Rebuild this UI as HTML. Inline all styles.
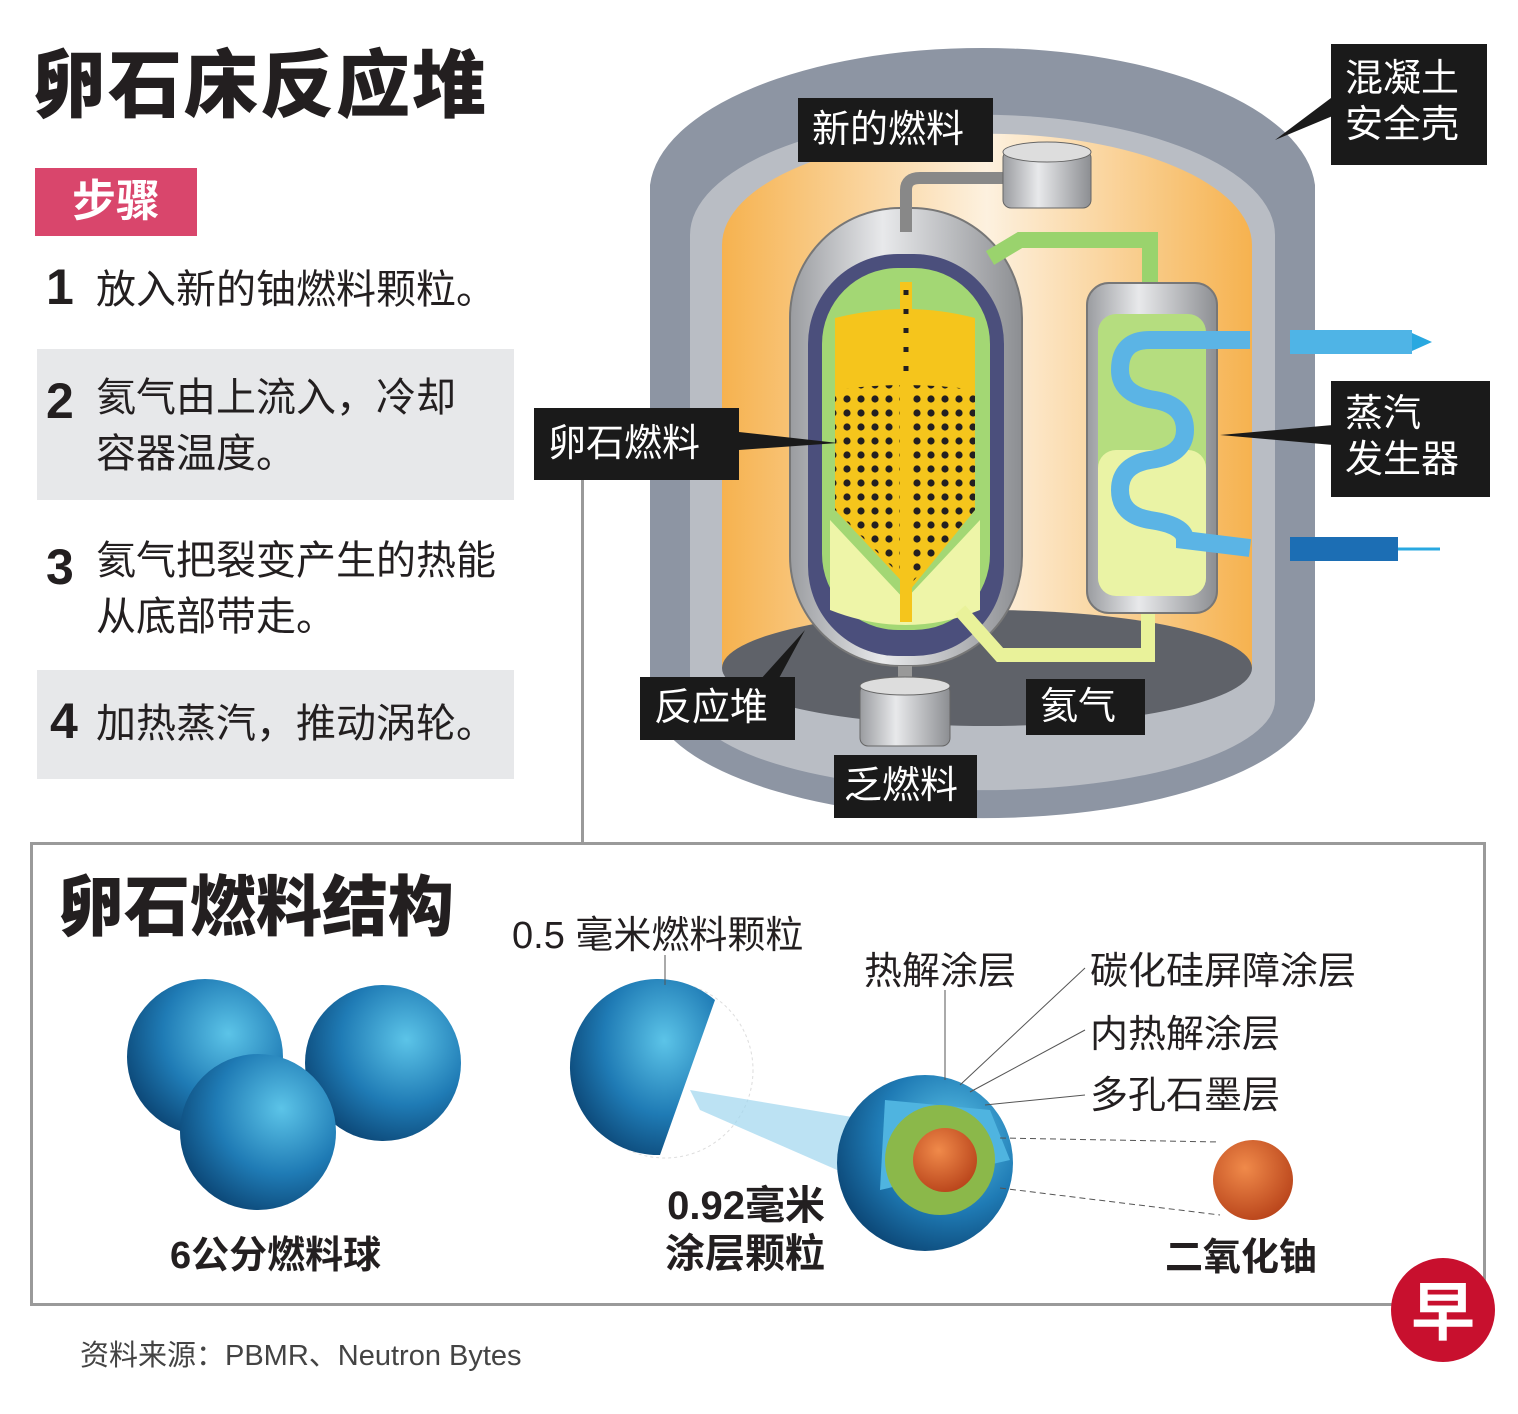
<!DOCTYPE html>
<html><head><meta charset="utf-8"><style>
html,body{margin:0;padding:0;background:#fff}
body{width:1518px;height:1414px;position:relative;overflow:hidden;font-family:"Liberation Sans","Noto Sans CJK SC",sans-serif;color:#231f20}
.a{position:absolute}
.t{font-size:40px;line-height:56px}
.n{font-weight:bold;font-size:50px}
.lb{position:absolute;background:#1a1a1a;color:#fff;font-size:38px;line-height:46px;padding:0 14px;box-sizing:border-box;white-space:nowrap;overflow:hidden}
</style></head><body>
<div class="a" style="left:32px;top:26px;font-size:74px;font-weight:900;letter-spacing:2px">卵石床反应堆</div>
<div class="a" style="left:35px;top:168px;width:162px;height:68px;background:#d9466c;color:#fff;font-size:44px;font-weight:bold;text-align:center;line-height:68px">步骤</div>
<div class="a" style="left:37px;top:349px;width:477px;height:151px;background:#e7e8ea"></div>
<div class="a" style="left:37px;top:670px;width:477px;height:109px;background:#e7e8ea"></div>
<div class="a n" style="left:46px;top:258px">1</div><div class="a t" style="left:96px;top:262px">放入新的铀燃料颗粒。</div>
<div class="a n" style="left:46px;top:372px">2</div><div class="a t" style="left:96px;top:370px">氦气由上流入，冷却<br>容器温度。</div>
<div class="a n" style="left:46px;top:538px">3</div><div class="a t" style="left:96px;top:533px">氦气把裂变产生的热能<br>从底部带走。</div>
<div class="a n" style="left:50px;top:692px">4</div><div class="a t" style="left:96px;top:696px">加热蒸汽，推动涡轮。</div>
<div class="a" style="left:581px;top:480px;width:3px;height:362px;background:#9a9a9a"></div>

<svg class="a" style="left:0;top:0" width="1518" height="1414">
<defs>
<linearGradient id="og" x1="0" x2="1"><stop offset="0" stop-color="#f6b24f"/><stop offset="0.5" stop-color="#fdf1df"/><stop offset="1" stop-color="#f6b24f"/></linearGradient>
<linearGradient id="sv" x1="0" x2="1"><stop offset="0" stop-color="#9a9ca0"/><stop offset="0.4" stop-color="#e8e9eb"/><stop offset="1" stop-color="#8c8e92"/></linearGradient>
<radialGradient id="bl" cx="0.65" cy="0.35" r="0.7"><stop offset="0" stop-color="#5cc4e8"/><stop offset="0.6" stop-color="#1f7bb5"/><stop offset="1" stop-color="#0d4a7a"/></radialGradient>
<radialGradient id="rd" cx="0.4" cy="0.35" r="0.7"><stop offset="0" stop-color="#f08a4a"/><stop offset="1" stop-color="#b8431a"/></radialGradient>
<pattern id="dots" width="14" height="14" patternUnits="userSpaceOnUse"><circle cx="7" cy="7" r="3.6" fill="#231f20"/></pattern>
</defs>
<path d="M650 185 A333 145 0 0 1 1315 185 L1315 700 A333 125 0 0 1 650 700 Z" fill="#8d95a3"/>
<path d="M690 235 A292 120 0 0 1 1275 235 L1275 700 A292 90 0 0 1 690 700 Z" fill="#b9bdc4"/>
<path d="M722 245 A262 110 0 0 1 1252 245 L1252 668 L722 668 Z" fill="url(#og)"/>
<ellipse cx="987" cy="668" rx="265" ry="58" fill="#5f6269"/>
<rect x="790" y="208" width="232" height="458" rx="110" fill="url(#sv)" stroke="#777" stroke-width="2"/>
<rect x="808" y="254" width="196" height="402" rx="90" fill="#4b4f7c"/>
<rect x="822" y="268" width="168" height="362" rx="76" fill="#a3d774"/>
<path d="M835 318 Q906 300 975 318 L975 510 L910 590 L835 510 Z" fill="#f5c51c"/>
<path d="M835 390 Q906 380 975 390 L975 510 L910 585 L835 510 Z" fill="url(#dots)"/>
<path d="M830 520 L905 600 L980 520 L980 610 Q906 640 830 610 Z" fill="#eef5a8"/>
<rect x="900" y="282" width="12" height="340" fill="#f5c51c"/>
<line x1="906" y1="290" x2="906" y2="380" stroke="#231f20" stroke-width="5" stroke-dasharray="5 14"/>
<rect x="898" y="666" width="14" height="20" fill="#999"/>
<rect x="860" y="684" width="90" height="62" rx="8" fill="url(#sv)" stroke="#666"/>
<ellipse cx="905" cy="686" rx="45" ry="9" fill="#ddd" stroke="#666"/>
<path d="M906 232 L906 190 Q906 178 920 178 L1005 178" fill="none" stroke="#888" stroke-width="12"/>
<rect x="1003" y="150" width="88" height="58" rx="8" fill="url(#sv)" stroke="#666"/>
<ellipse cx="1047" cy="152" rx="44" ry="10" fill="#ddd" stroke="#666"/>
<path d="M990 258 L1020 240 L1150 240 L1150 290" fill="none" stroke="#9ad36d" stroke-width="16"/>
<path d="M960 610 L1000 655 L1148 655 L1148 612" fill="none" stroke="#e9f29a" stroke-width="14"/>
<rect x="1087" y="283" width="130" height="330" rx="22" fill="url(#sv)" stroke="#777" stroke-width="2"/>
<rect x="1098" y="314" width="108" height="282" rx="18" fill="#b5dd7f"/>
<rect x="1098" y="450" width="108" height="146" rx="18" fill="#eaf3a5"/>
<path d="M1250 340 L1150 340 Q1120 340 1120 370 Q1120 395 1155 400 Q1185 405 1185 430 Q1185 455 1150 460 Q1120 465 1120 490 Q1120 515 1150 520 Q1185 525 1185 540 L1250 548" fill="none" stroke="#5bb4e5" stroke-width="18"/>
<rect x="1290" y="330" width="122" height="24" fill="#4fb4e6"/><rect x="1290" y="537" width="108" height="24" fill="#1c6eb4"/>
<polygon points="1412,333 1432,342 1412,351" fill="#29a8e0"/>
<line x1="1398" y1="549" x2="1440" y2="549" stroke="#29a8e0" stroke-width="3"/>
<polygon points="1335,95 1335,115 1275,140" fill="#1a1a1a"/>
<polygon points="739,432 739,450 838,443" fill="#1a1a1a"/>
<polygon points="1333,425 1333,445 1220,435" fill="#1a1a1a"/>
<polygon points="760,680 778,680 805,630" fill="#1a1a1a"/>
<rect x="31.5" y="843.5" width="1453" height="461" fill="none" stroke="#9a9a9a" stroke-width="3"/>
<circle cx="205" cy="1057" r="78" fill="url(#bl)"/>
<circle cx="383" cy="1063" r="78" fill="url(#bl)"/>
<circle cx="258" cy="1132" r="78" fill="url(#bl)"/>
<circle cx="665" cy="1070" r="88" fill="none" stroke="#ddd" stroke-dasharray="3 3"/>
<path d="M715 1000 A88 88 0 1 0 660 1155 Z" fill="url(#bl)"/>
<polygon points="690,1090 700,1110 860,1180 870,1120" fill="#9fd6ee" opacity="0.7"/>
<circle cx="925" cy="1163" r="88" fill="url(#bl)"/>
<path d="M880 1190 L885 1100 L990 1110 L1010 1160 Z" fill="#4fb4e0"/>
<circle cx="940" cy="1160" r="55" fill="#8bb84a"/>
<circle cx="945" cy="1160" r="32" fill="url(#rd)"/>
<circle cx="1253" cy="1180" r="40" fill="url(#rd)"/>
<g stroke="#555" stroke-width="1" fill="none">
<line x1="665" y1="955" x2="665" y2="985"/><line x1="945" y1="990" x2="945" y2="1080"/>
<line x1="1085" y1="968" x2="960" y2="1085"/><line x1="1085" y1="1030" x2="970" y2="1092"/><line x1="1085" y1="1095" x2="985" y2="1105"/>
<line x1="1000" y1="1138" x2="1220" y2="1142" stroke-dasharray="6 4"/><line x1="1000" y1="1188" x2="1220" y2="1215" stroke-dasharray="6 4"/>
</g>
<circle cx="1443" cy="1310" r="52" fill="#c8102e"/>
<text x="1443" y="1335" font-size="64" font-weight="bold" fill="#fff" text-anchor="middle" font-family="Noto Sans CJK SC,sans-serif">早</text>
</svg>

<div class="lb" style="left:798px;top:98px;width:195px;height:64px;line-height:64px">新的燃料</div>
<div class="lb" style="left:1331px;top:44px;width:156px;height:121px;padding-top:12px">混凝土<br>安全壳</div>
<div class="lb" style="left:534px;top:408px;width:205px;height:72px;line-height:72px">卵石燃料</div>
<div class="lb" style="left:1331px;top:381px;width:159px;height:116px;padding-top:10px">蒸汽<br>发生器</div>
<div class="lb" style="left:640px;top:677px;width:155px;height:63px;line-height:63px">反应堆</div>
<div class="lb" style="left:1026px;top:679px;width:119px;height:56px;line-height:56px">氦气</div>
<div class="lb" style="left:834px;top:755px;width:143px;height:63px;line-height:63px;padding:0 10px">乏燃料</div>

<div class="a" style="left:58px;top:854px;font-size:66px;font-weight:900">卵石燃料结构</div>
<div class="a" style="left:512px;top:904px;font-size:38px">0.5 毫米燃料颗粒</div>
<div class="a" style="left:864px;top:940px;font-size:38px">热解涂层</div>
<div class="a" style="left:1090px;top:940px;font-size:38px">碳化硅屏障涂层</div>
<div class="a" style="left:1090px;top:1003px;font-size:38px">内热解涂层</div>
<div class="a" style="left:1090px;top:1064px;font-size:38px">多孔石墨层</div>
<div class="a" style="left:170px;top:1224px;font-size:38px;font-weight:bold">6公分燃料球</div>
<div class="a" style="left:665px;top:1182px;font-size:40px;font-weight:bold;text-align:right;line-height:48px">0.92毫米<br>涂层颗粒</div>
<div class="a" style="left:1165px;top:1226px;font-size:38px;font-weight:bold">二氧化铀</div>
<div class="a" style="left:80px;top:1332px;font-size:29px;color:#444">资料来源：PBMR、Neutron Bytes</div>
</body></html>
